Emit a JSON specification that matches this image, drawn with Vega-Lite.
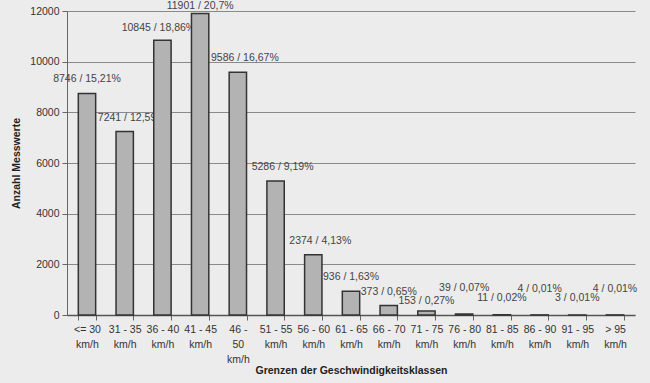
{
  "$schema": "https://vega.github.io/schema/vega-lite/v6.json",
  "width": 568,
  "height": 304,
  "autosize": {"type": "none"},
  "padding": {"left": 67, "top": 11, "right": 15, "bottom": 68},
  "background": "#ececec",
  "config": {
    "view": {"stroke": null},
    "font": "Liberation Sans",
    "axis": {"labelFont": "Liberation Sans", "titleFont": "Liberation Sans", "labelColor": "#333", "titleColor": "#222"}
  },
  "data": {
    "values": [
      {"klasse": "<= 30 km/h", "anzahl": 8746, "label": "8746 / 15,21%"},
      {"klasse": "31 - 35 km/h", "anzahl": 7241, "label": "7241 / 12,59%"},
      {"klasse": "36 - 40 km/h", "anzahl": 10845, "label": "10845 / 18,86%"},
      {"klasse": "41 - 45 km/h", "anzahl": 11901, "label": "11901 / 20,7%"},
      {"klasse": "46 - 50 km/h", "anzahl": 9586, "label": "9586 / 16,67%"},
      {"klasse": "51 - 55 km/h", "anzahl": 5286, "label": "5286 / 9,19%"},
      {"klasse": "56 - 60 km/h", "anzahl": 2374, "label": "2374 / 4,13%"},
      {"klasse": "61 - 65 km/h", "anzahl": 936, "label": "936 / 1,63%"},
      {"klasse": "66 - 70 km/h", "anzahl": 373, "label": "373 / 0,65%"},
      {"klasse": "71 - 75 km/h", "anzahl": 153, "label": "153 / 0,27%"},
      {"klasse": "76 - 80 km/h", "anzahl": 39, "label": "39 / 0,07%"},
      {"klasse": "81 - 85 km/h", "anzahl": 11, "label": "11 / 0,02%"},
      {"klasse": "86 - 90 km/h", "anzahl": 4, "label": "4 / 0,01%"},
      {"klasse": "91 - 95 km/h", "anzahl": 3, "label": "3 / 0,01%"},
      {"klasse": "> 95 km/h", "anzahl": 4, "label": "4 / 0,01%"}
    ]
  },
  "encoding": {
    "x": {
      "field": "klasse",
      "type": "nominal",
      "sort": ["<= 30 km/h", "31 - 35 km/h", "36 - 40 km/h", "41 - 45 km/h", "46 - 50 km/h", "51 - 55 km/h", "56 - 60 km/h", "61 - 65 km/h", "66 - 70 km/h", "71 - 75 km/h", "76 - 80 km/h", "81 - 85 km/h", "86 - 90 km/h", "91 - 95 km/h", "> 95 km/h"],
      "scale": {"paddingInner": 0.54, "paddingOuter": 0.3},
      "axis": {
        "title": "Grenzen der Geschwindigkeitsklassen",
        "titleFontSize": 10.5,
        "titleFontWeight": "bold",
        "titlePadding": 1,
        "labelAngle": 0,
        "labelFontSize": 10.5,
        "labelLineHeight": 15,
        "labelPadding": 4,
        "labelOverlap": false,
        "labelExpr": "!datum.label ? '' : datum.label == '46 - 50 km/h' ? ['46 -', '50', 'km/h'] : [replace(datum.label, ' km/h', ''), 'km/h']",
        "tickBand": "extent",
        "tickSize": 5,
        "tickColor": "#666",
        "domainColor": "#555",
        "domainWidth": 1.5
      }
    },
    "y": {
      "field": "anzahl",
      "type": "quantitative",
      "scale": {"domain": [0, 12000]},
      "axis": {
        "title": "Anzahl Messwerte",
        "titleFontSize": 10.5,
        "titleFontWeight": "bold",
        "titlePadding": 8,
        "format": "d",
        "values": [0, 2000, 4000, 6000, 8000, 10000, 12000],
        "labelFontSize": 10.5,
        "labelPadding": 3,
        "tickSize": 5,
        "tickColor": "#666",
        "domainColor": "#666",
        "gridColor": "#8a8a8a",
        "gridWidth": 1
      }
    }
  },
  "layer": [
    {
      "transform": [{"filter": "indexof(['<= 30 km/h', '61 - 65 km/h', '66 - 70 km/h'], datum.klasse) >= 0"}],
      "mark": {"type": "text", "dy": -14, "fontSize": 10.5, "color": "#444"},
      "encoding": {"text": {"field": "label"}}
    },
    {
      "transform": [{"filter": "indexof(['31 - 35 km/h', '46 - 50 km/h', '51 - 55 km/h', '56 - 60 km/h'], datum.klasse) >= 0"}],
      "mark": {"type": "text", "dy": -14, "dx": 7, "fontSize": 10.5, "color": "#444"},
      "encoding": {"text": {"field": "label"}}
    },
    {
      "transform": [{"filter": "datum.klasse == '36 - 40 km/h'"}],
      "mark": {"type": "text", "dy": -12, "dx": -4, "fontSize": 10.5, "color": "#444"},
      "encoding": {"text": {"field": "label"}}
    },
    {
      "transform": [{"filter": "datum.klasse == '41 - 45 km/h'"}],
      "mark": {"type": "text", "dy": -8, "fontSize": 10.5, "color": "#444"},
      "encoding": {"text": {"field": "label"}}
    },
    {
      "transform": [{"filter": "datum.klasse == '71 - 75 km/h'"}],
      "mark": {"type": "text", "dy": -10, "fontSize": 10.5, "color": "#444"},
      "encoding": {"text": {"field": "label"}}
    },
    {
      "transform": [{"filter": "indexof(['76 - 80 km/h', '86 - 90 km/h', '> 95 km/h'], datum.klasse) >= 0"}],
      "mark": {"type": "text", "dy": -26, "fontSize": 10.5, "color": "#444"},
      "encoding": {"text": {"field": "label"}}
    },
    {
      "transform": [{"filter": "indexof(['81 - 85 km/h', '91 - 95 km/h'], datum.klasse) >= 0"}],
      "mark": {"type": "text", "dy": -17, "fontSize": 10.5, "color": "#444"},
      "encoding": {"text": {"field": "label"}}
    },
    {
      "mark": {"type": "bar", "fill": "#b3b3b3", "stroke": "#333", "strokeWidth": 1.5}
    }
  ]
}
